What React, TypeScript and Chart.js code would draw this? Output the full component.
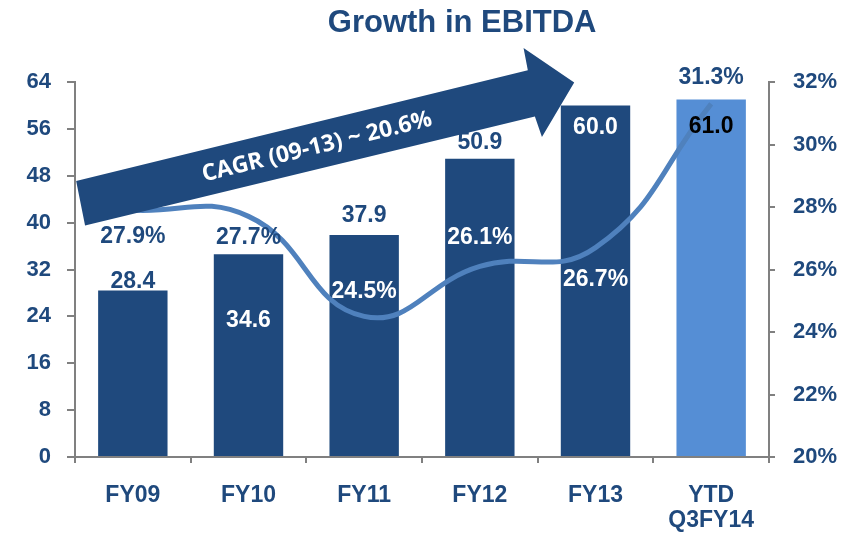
import React, { useEffect, useRef } from "react";
import { Chart, registerables } from "chart.js";

Chart.register(...registerables);

const categories: (string | string[])[] = ["FY09", "FY10", "FY11", "FY12", "FY13", ["YTD", "Q3FY14"]];
const ebitda = [28.4, 34.6, 37.9, 50.9, 60.0, 61.0];
const ebitdaMargin = [27.9, 27.7, 24.5, 26.1, 26.7, 31.3];
const leftAxis = { min: 0, max: 64, step: 8 };
const rightAxis = { min: 20, max: 32, step: 2 };
const titleText = "Growth in EBITDA";
const arrowText = "CAGR (09-13) ~ 20.6%";

// styling / placement (not data)
const DARK = "#1F497D";
const barColors = [DARK, DARK, DARK, DARK, DARK, "#558ED5"];
const barLabelColors = [DARK, "#FFFFFF", DARK, DARK, "#FFFFFF", "#000000"];
const barLabelOffsets = [-9, 66, -19, -16, 22, 27];
const pctLabelColors = [DARK, DARK, "#FFFFFF", "#FFFFFF", "#FFFFFF", DARK];
const pctLabelOffsets = [27, 21, -25, -29, 32, -26];
// arrow outline in (category index, left-axis value)
const arrowShape: [number, number][] = [
  [-0.49, 47.1],
  [3.415, 66.0],
  [3.378, 69.8],
  [3.816, 63.9],
  [3.537, 54.6],
  [3.476, 58.1],
  [-0.413, 39.5],
];
const arrowTextAnchor: [number, number] = [1.592, 52.9];

const FONT = 'Arial, "Liberation Sans", sans-serif';

const overlayPlugin = {
  id: "overlay",
  afterDraw(chart: any) {
    const ctx = chart.ctx as CanvasRenderingContext2D;
    const xs = chart.scales.x;
    const ys = chart.scales.y;
    const y1 = chart.scales.y1;
    ctx.save();
    // title
    ctx.fillStyle = DARK;
    ctx.font = `bold 31px ${FONT}`;
    ctx.textAlign = "center";
    ctx.textBaseline = "middle";
    ctx.fillText(titleText, chart.width * 0.538, 23);

    // arrow
    const pts = arrowShape.map(([i, v]) => [xs.getPixelForValue(i), ys.getPixelForValue(v)]);
    ctx.beginPath();
    pts.forEach(([px, py], k) => (k === 0 ? ctx.moveTo(px, py) : ctx.lineTo(px, py)));
    ctx.closePath();
    ctx.fillStyle = DARK;
    ctx.fill();
    const a0 = pts[0];
    const a1 = pts[1];
    const ang = Math.atan2(a1[1] - a0[1], a1[0] - a0[0]);
    ctx.save();
    ctx.translate(xs.getPixelForValue(arrowTextAnchor[0]), ys.getPixelForValue(arrowTextAnchor[1]));
    ctx.rotate(ang);
    ctx.fillStyle = "#FFFFFF";
    ctx.font = `bold 23px "Open Sans", sans-serif`;
    ctx.fillText(arrowText, 0, 0);
    ctx.restore();

    // data labels
    ctx.font = `bold 23px ${FONT}`;
    ebitda.forEach((v, i) => {
      const px = xs.getPixelForValue(i);
      ctx.fillStyle = barLabelColors[i];
      ctx.fillText(v.toFixed(1), px, ys.getPixelForValue(v) + barLabelOffsets[i]);
    });
    ebitdaMargin.forEach((v, i) => {
      const px = xs.getPixelForValue(i);
      ctx.fillStyle = pctLabelColors[i];
      ctx.fillText(v.toFixed(1) + "%", px, y1.getPixelForValue(v) + pctLabelOffsets[i]);
    });
    ctx.restore();
  },
};

export default function App() {
  const ref = useRef<HTMLCanvasElement>(null);
  useEffect(() => {
    const tickFont = { family: FONT, size: 22, weight: "bold" as const };
    const catFont = { family: FONT, size: 23, weight: "bold" as const, lineHeight: 1.1 };
    const chart = new Chart(ref.current!, {
      type: "bar",
      data: {
        labels: categories,
        datasets: [
          {
            type: "line",
            data: ebitdaMargin,
            yAxisID: "y1",
            borderColor: "#4F81BD",
            borderWidth: 5,
            tension: 0.45,
            pointRadius: 0,
            fill: false,
            order: 0,
          } as any,
          {
            type: "bar",
            data: ebitda,
            yAxisID: "y",
            backgroundColor: barColors,
            barPercentage: 0.6,
            categoryPercentage: 1,
            order: 1,
          },
        ],
      },
      options: {
        animation: false,
        responsive: false,
        layout: { padding: { top: 82 } },
        plugins: { legend: { display: false }, tooltip: { enabled: false }, title: { display: false } },
        scales: {
          x: {
            grid: { drawOnChartArea: false, drawTicks: true, tickLength: 6, color: "#808080", lineWidth: 2, offset: true },
            border: { display: true, color: "#808080", width: 2 },
            ticks: { color: DARK, font: catFont, padding: 20, maxRotation: 0, autoSkip: false },
            afterFit: (s: any) => {
              s.height = 76;
            },
          },
          y: {
            position: "left",
            min: leftAxis.min,
            max: leftAxis.max,
            ticks: { stepSize: leftAxis.step, color: DARK, font: tickFont, padding: 16 },
            grid: { drawOnChartArea: false, drawTicks: true, tickLength: 8, color: "#808080", lineWidth: 2 },
            border: { display: true, color: "#808080", width: 2 },
            afterFit: (s: any) => {
              s.width = 75;
            },
          },
          y1: {
            position: "right",
            min: rightAxis.min,
            max: rightAxis.max,
            ticks: { stepSize: rightAxis.step, color: DARK, font: tickFont, padding: 18, callback: (v: any) => v + "%" },
            grid: { drawOnChartArea: false, drawTicks: true, tickLength: 6, color: "#808080", lineWidth: 2 },
            border: { display: true, color: "#808080", width: 2 },
            afterFit: (s: any) => {
              s.width = 90;
            },
          },
        },
      } as any,
      plugins: [overlayPlugin],
    });
    return () => chart.destroy();
  }, []);
  return (
    <div style={{ position: "fixed", left: 0, top: 0, width: 859, height: 533, background: "#fff" }}>
      <canvas ref={ref} width={859} height={533} />
    </div>
  );
}
